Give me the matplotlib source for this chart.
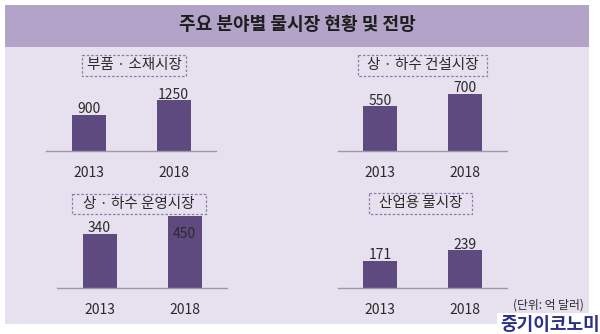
import matplotlib
matplotlib.use("Agg")
import matplotlib.pyplot as plt
from matplotlib.patches import Rectangle

plt.rcParams['font.family'] = ['Noto Sans CJK KR', 'DejaVu Sans']

# ---- data ----
years = ['2013', '2018']
parts_materials = [900, 1250]
water_construction = [550, 700]
water_operation = [340, 450]
industrial_water = [171, 239]
panel_titles = ['부품 · 소재시장', '상 · 하수 건설시장', '상 · 하수 운영시장', '산업용 물시장']
main_title = '주요 분야별 물시장 현황 및 전망'
unit_text = '(단위: 억 달러)'
logo_text = '중기이코노미'

series = [parts_materials, water_construction, water_operation, industrial_water]

# ---- layout (pixels) ----
W, H = 600, 334
# axis x0, x1, baseline y, px per unit, box (x0, x1, y0, y1), label inside bar for 2nd bar
layouts = [
    (46, 216, 151, 0.0405, (82, 186, 55, 76), False),
    (338, 507, 151, 0.0816, (358, 487, 55, 76), False),
    (57, 227, 288, 0.160, (72, 206, 194, 214), True),
    (338, 507, 288, 0.158, (369, 472, 193, 214), False),
]

BAR = '#5e4a7e'
PANEL = '#e7e0ef'
BAND = '#b3a3c8'
LINE = '#9d95a8'
BOX = '#8c7ca6'
TXT = '#2a2a2a'

fig = plt.figure(figsize=(W / 100, H / 100), dpi=100)
fig.patch.set_facecolor('white')

bg = fig.add_axes([0, 0, 1, 1], zorder=0)
bg.set_xlim(0, W)
bg.set_ylim(H, 0)
bg.axis('off')
bg.add_patch(Rectangle((5, 47), 584, 277, facecolor=PANEL, edgecolor='none'))
bg.add_patch(Rectangle((5, 5), 584, 42, facecolor=BAND, edgecolor='none'))
bg.text(297, 25, main_title, ha='center', va='center', fontsize=13,
        fontweight='bold', color='#1e1e1e')

for vals, (x0, x1, yb, scale, box, inside) in zip(series, layouts):
    hpx = 110
    ax = fig.add_axes([x0 / W, 1 - yb / H, (x1 - x0) / W, hpx / H], zorder=1)
    ax.patch.set_visible(False)
    ax.set_xlim(-0.5, 1.5)
    ax.set_ylim(0, hpx / scale)
    ax.bar(range(len(vals)), vals, width=0.4, color=BAR, zorder=2)
    for s in ['top', 'left', 'right']:
        ax.spines[s].set_visible(False)
    ax.spines['bottom'].set_color(LINE)
    ax.spines['bottom'].set_linewidth(1.0)
    ax.set_yticks([])
    ax.set_xticks(range(len(years)))
    ax.set_xticklabels(years, fontsize=10, color=TXT)
    ax.tick_params(axis='x', length=0, pad=11)
    for i, v in enumerate(vals):
        if inside and i == 1:
            ax.annotate(str(v), (i, v), xytext=(0, -8), textcoords='offset points',
                        ha='center', va='top', fontsize=10, color=TXT)
        else:
            ax.annotate(str(v), (i, v), xytext=(0, -1), textcoords='offset points',
                        ha='center', va='bottom', fontsize=10, color=TXT)

ov = fig.add_axes([0, 0, 1, 1], zorder=5)
ov.set_xlim(0, W)
ov.set_ylim(H, 0)
ov.axis('off')
ov.patch.set_visible(False)
for title, (x0, x1, yb, scale, box, inside) in zip(panel_titles, layouts):
    bx0, bx1, by0, by1 = box
    ov.add_patch(Rectangle((bx0, by0), bx1 - bx0, by1 - by0, facecolor=PANEL,
                           edgecolor=BOX, linewidth=0.9, linestyle=(0, (2, 1.5))))
    ov.text((bx0 + bx1) / 2, (by0 + by1) / 2, title, ha='center', va='center',
            fontsize=10.5, color=TXT)

ov.add_patch(Rectangle((497, 313), 103, 21, facecolor='white', edgecolor='none'))
ov.text(548, 305, unit_text, ha='center', va='center', fontsize=8.5, color=TXT)
ov.text(600, 325, logo_text, ha='right', va='center', fontsize=13,
        fontweight='bold', color='#2b3187')

fig.savefig('out.png', dpi=100)
